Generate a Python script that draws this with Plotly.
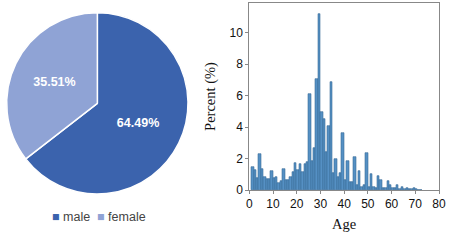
import plotly.graph_objects as go

# Pie data
gender_labels = ["male", "female"]
gender_share = [64.49, 35.51]
gender_colors = ["#3b63ad", "#8fa3d5"]

# Histogram data: age bin start (bin covers [age, age+1)) and percent
age_bins = list(range(1, 73))
percent = [
    1.44, 1.27, 0.78, 2.31, 1.31, 0.85, 0.72, 0.70, 1.19, 0.74,   # 1-10
    0.85, 0.46, 0.59, 1.33, 0.61, 0.61, 0.80, 1.12, 1.73, 1.25,   # 11-20
    1.64, 1.16, 1.68, 1.78, 6.10, 1.85, 2.67, 7.05, 11.20, 4.94,  # 21-30
    4.50, 2.40, 4.06, 6.90, 1.10, 1.95, 0.85, 1.06, 3.64, 0.63,   # 31-40
    1.84, 0.48, 0.48, 2.12, 0.32, 1.22, 0.20, 0.33, 2.33, 0.19,   # 41-50
    1.00, 0.20, 0.15, 0.87, 0.61, 0.15, 0.12, 0.60, 0.35, 0.10,   # 51-60
    0.10, 0.35, 0.08, 0.22, 0.05, 0.10, 0.08, 0.05, 0.15, 0.05,   # 61-70
    0.03, 0.02,                                                   # 71-72
]
x_ticks = [0, 10, 20, 30, 40, 50, 60, 70, 80]
y_ticks = [0, 2, 4, 6, 8, 10]

W, H = 453, 240
fig = go.Figure()

fig.add_trace(go.Pie(
    labels=gender_labels,
    values=gender_share,
    sort=False,
    direction="clockwise",
    rotation=0,
    marker=dict(colors=gender_colors, line=dict(color="white", width=1.5)),
    texttemplate="%{value:.2f}%",
    textposition="inside",
    insidetextorientation="horizontal",
    textfont=dict(family="Liberation Sans, Arial", size=12.5, color="white", weight="bold"),
    domain=dict(x=[6.7 / W, 188 / W], y=[1 - 194.3 / H, 1 - 12.3 / H]),
    showlegend=False,
    hoverinfo="skip",
))

fig.add_trace(go.Bar(
    x=age_bins,
    y=percent,
    width=1,
    offset=0,
    marker=dict(color="#5590c4", line=dict(color="#3a6d98", width=0.6)),
    showlegend=False,
    xaxis="x", yaxis="y",
))

axis_font = dict(family="Liberation Sans, Arial", size=12, color="#111")
title_font = dict(family="Liberation Serif, Times New Roman", size=14.5, color="#111")

# custom legend for the pie, built from the pie data
legend_text = "&nbsp;&nbsp;".join(
    f"<span style='color:{c}'>■</span> {lab}" for lab, c in zip(gender_labels, gender_colors)
)

fig.update_layout(
    width=W, height=H,
    margin=dict(l=0, r=0, t=0, b=0, autoexpand=False),
    paper_bgcolor="white",
    plot_bgcolor="white",
    bargap=0,
    showlegend=False,
    xaxis=dict(
        domain=[249.3 / W, 439 / W],
        range=[0, 80],
        tickvals=x_ticks,
        ticks="outside", ticklen=3, tickcolor="#888",
        showgrid=False, zeroline=False,
        showline=True, linecolor="#888", linewidth=1, mirror=True,
        tickfont=axis_font,
        title=dict(text="Age", font=title_font, standoff=8),
        automargin=False,
        anchor="y",
    ),
    yaxis=dict(
        domain=[1 - 190 / H, 1 - 3 / H],
        range=[0, 11.9],
        tickvals=y_ticks,
        ticks="outside", ticklen=3, tickcolor="#888",
        showgrid=False, zeroline=False,
        showline=True, linecolor="#888", linewidth=1, mirror=True,
        tickfont=axis_font,
        title=dict(text="Percent (%)", font=title_font, standoff=10),
        automargin=False,
        anchor="x",
    ),
    annotations=[dict(
        text=legend_text,
        x=99 / W, y=1 - 217 / H, xref="paper", yref="paper",
        xanchor="center", yanchor="middle", showarrow=False,
        font=dict(family="Liberation Sans, Arial", size=12.5, color="#444"),
    )],
)

fig.write_html(
    "out.html",
    config={"displayModeBar": False},
    post_script="document.body.style.margin='0';document.body.style.overflow='hidden';",
)
